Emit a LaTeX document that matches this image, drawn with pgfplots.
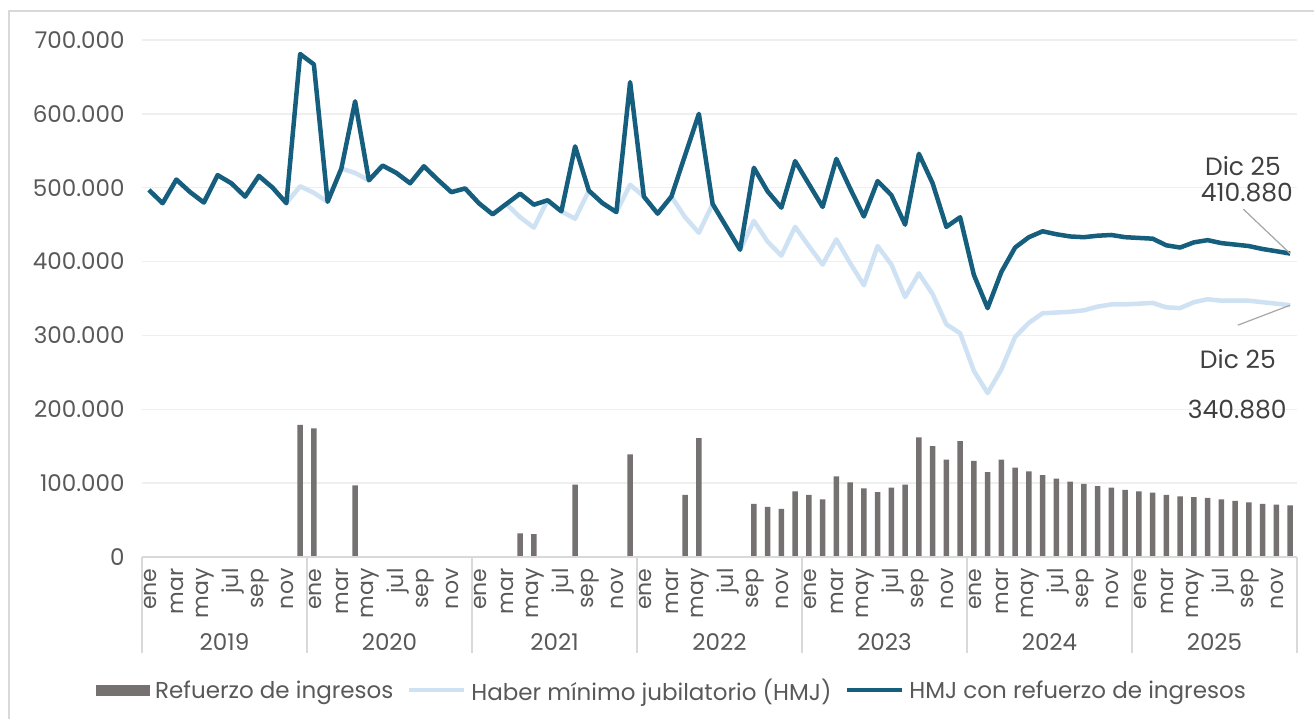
\documentclass[border=0pt]{standalone}
\usepackage{pgfplots}
\pgfplotsset{compat=1.18}
\usepackage{pgfplotstable}
\usepackage{fontspec}
\setmainfont{Poppins}
\definecolor{barc}{HTML}{767171}
\definecolor{hmj}{HTML}{CFE2F3}
\definecolor{hmjr}{HTML}{165E7D}
\definecolor{txt}{HTML}{595959}
\definecolor{anno}{HTML}{404040}
\definecolor{gridc}{HTML}{EFEFEF}
\definecolor{axc}{HTML}{D9D9D9}
\definecolor{leader}{HTML}{A6A6A6}

% HMJ con refuerzo de ingresos
\pgfplotstableread{
x y
0 497000
1 479000
2 511000
3 494000
4 480000
5 517000
6 506000
7 488000
8 516000
9 500000
10 479000
11 681000
12 667000
13 481000
14 526000
15 617000
16 510000
17 530000
18 520000
19 506000
20 529000
21 511000
22 494000
23 499000
24 479000
25 464000
26 478000
27 492000
28 477000
29 483000
30 468000
31 556000
32 496000
33 479000
34 467000
35 643000
36 488000
37 465000
38 488000
39 544000
40 600000
41 478000
42 447000
43 416000
44 527000
45 495000
46 473000
47 536000
48 505000
49 474000
50 539000
51 499000
52 461000
53 509000
54 490000
55 450000
56 546000
57 506000
58 447000
59 460000
60 382000
61 337000
62 386000
63 419000
64 433000
65 441000
66 437000
67 434000
68 433000
69 435000
70 436000
71 433000
72 432000
73 431000
74 422000
75 419000
76 426000
77 429000
78 425000
79 423000
80 421000
81 417000
82 414000
83 410880
}\dark

% Haber minimo jubilatorio
\pgfplotstableread{
x y
0 497000
1 479000
2 511000
3 494000
4 480000
5 517000
6 506000
7 488000
8 516000
9 500000
10 479000
11 502000
12 493000
13 481000
14 526000
15 520000
16 510000
17 530000
18 520000
19 506000
20 529000
21 511000
22 494000
23 499000
24 479000
25 464000
26 478000
27 460000
28 446000
29 483000
30 468000
31 458000
32 496000
33 479000
34 467000
35 504000
36 488000
37 465000
38 488000
39 460000
40 439000
41 478000
42 447000
43 416000
44 455000
45 427000
46 408000
47 447000
48 421000
49 396000
50 430000
51 398000
52 368000
53 421000
54 396000
55 352000
56 384000
57 356000
58 315000
59 303000
60 252000
61 222000
62 254000
63 298000
64 317000
65 330000
66 331000
67 332000
68 334000
69 339000
70 342000
71 342000
72 343000
73 344000
74 338000
75 337000
76 345000
77 349000
78 347000
79 347000
80 347000
81 345000
82 343000
83 340880
}\light

% Refuerzo de ingresos
\pgfplotstableread{
x y
11 179000
12 174000
15 97000
27 32000
28 31000
31 98000
35 139000
39 84000
40 161000
44 72000
45 68000
46 65000
47 89000
48 84000
49 78000
50 109000
51 101000
52 93000
53 88000
54 94000
55 98000
56 162000
57 150000
58 132000
59 157000
60 130000
61 115000
62 132000
63 121000
64 116000
65 111000
66 106000
67 102000
68 99000
69 96000
70 94000
71 91000
72 89000
73 87000
74 84000
75 82000
76 81000
77 80000
78 78000
79 76000
80 74000
81 72000
82 71000
83 70000
}\bars

\begin{document}
\begin{tikzpicture}[x=1pt,y=1pt]
\useasboundingbox (0,0) rectangle (1314,718);
\fill[white] (0,0) rectangle (1314,718);
\draw[axc, line width=2pt] (9.3,-20) -- (9.3,707.3) -- (1340,707.3);
\begin{axis}[
  at={(142pt,161pt)}, anchor=south west,
  scale only axis, width=1155pt, height=517pt,
  xmin=-0.5, xmax=83.5, ymin=0, ymax=700000,
  clip=false,
  scaled y ticks=false,
  axis line style={draw=none},
  major tick length=0pt,
  ytick={0,100000,200000,300000,400000,500000,600000,700000},
  yticklabels={0,100.000,200.000,300.000,400.000,500.000,600.000,700.000},
  yticklabel style={font=\fontsize{23}{27}\selectfont, text=txt, anchor=east, xshift=-14pt},
  ymajorgrids, grid style={gridc, line width=1.3pt},
  xtick={0,2,...,82},
  xticklabels={ene,mar,may,jul,sep,nov,ene,mar,may,jul,sep,nov,ene,mar,may,jul,sep,nov,ene,mar,may,jul,sep,nov,ene,mar,may,jul,sep,nov,ene,mar,may,jul,sep,nov,ene,mar,may,jul,sep,nov},
  xticklabel style={font=\fontsize{22}{26}\selectfont, text=txt, rotate=90, anchor=east, xshift=-8pt, yshift=-1.5pt},
  legend style={at={(0.4589,-0.2573)}, anchor=center, draw=none, fill=none,
    font=\fontsize{23}{27}\selectfont, text=txt, legend columns=3,
    /tikz/every even column/.append style={column sep=12pt},
    /tikz/every odd column/.append style={column sep=3pt}},
  legend cell align=left,
]
\addplot[ybar, bar width=5.5pt, fill=barc, draw=none,
  legend image code/.code={\fill[barc] (0pt,-5.5pt) rectangle (54pt,5.5pt);}]
  table[x=x,y=y] {\bars};
\addlegendentry{Refuerzo de ingresos}
\addplot[hmj, line width=4.5pt, line join=round, mark=none,
  legend image code/.code={\draw[hmj, line width=4pt] (0pt,0pt) -- (55pt,0pt);}]
  table[x=x,y=y] {\light};
\addlegendentry{Haber mínimo jubilatorio (HMJ)}
\addplot[hmjr, line width=4.5pt, line join=round, mark=none,
  legend image code/.code={\draw[hmjr, line width=4pt] (0pt,0pt) -- (55pt,0pt);}]
  table[x=x,y=y] {\dark};
\addlegendentry{HMJ con refuerzo de ingresos}

% category axis
\draw[axc, line width=1.5pt] (axis cs:-0.5,0) -- (axis cs:83.5,0);
\draw[axc, line width=1.5pt] (axis cs:-0.5,0) -- ([yshift=-96pt]axis cs:-0.5,0);
\draw[axc, line width=1.5pt] (axis cs:11.5,0) -- ([yshift=-96pt]axis cs:11.5,0);
\draw[axc, line width=1.5pt] (axis cs:23.5,0) -- ([yshift=-96pt]axis cs:23.5,0);
\draw[axc, line width=1.5pt] (axis cs:35.5,0) -- ([yshift=-96pt]axis cs:35.5,0);
\draw[axc, line width=1.5pt] (axis cs:47.5,0) -- ([yshift=-96pt]axis cs:47.5,0);
\draw[axc, line width=1.5pt] (axis cs:59.5,0) -- ([yshift=-96pt]axis cs:59.5,0);
\draw[axc, line width=1.5pt] (axis cs:71.5,0) -- ([yshift=-96pt]axis cs:71.5,0);
\draw[axc, line width=1.5pt] (axis cs:83.5,0) -- ([yshift=-96pt]axis cs:83.5,0);
\node[text=txt, font=\fontsize{23}{27}\selectfont] at ([yshift=-85pt]axis cs:5.5,0) {2019};
\node[text=txt, font=\fontsize{23}{27}\selectfont] at ([yshift=-85pt]axis cs:17.5,0) {2020};
\node[text=txt, font=\fontsize{23}{27}\selectfont] at ([yshift=-85pt]axis cs:29.5,0) {2021};
\node[text=txt, font=\fontsize{23}{27}\selectfont] at ([yshift=-85pt]axis cs:41.5,0) {2022};
\node[text=txt, font=\fontsize{23}{27}\selectfont] at ([yshift=-85pt]axis cs:53.5,0) {2023};
\node[text=txt, font=\fontsize{23}{27}\selectfont] at ([yshift=-85pt]axis cs:65.5,0) {2024};
\node[text=txt, font=\fontsize{23}{27}\selectfont] at ([yshift=-85pt]axis cs:77.5,0) {2025};

% annotations
\draw[leader, line width=1.2pt] (axis cs:79.6,470900) -- (axis cs:83,410880);
\draw[leader, line width=1.2pt] (axis cs:79.2,313900) -- (axis cs:83,340880);
\node[text=anno, font=\fontsize{25}{29}\selectfont] at (axis cs:79.57,529000) {Dic 25};
\node[text=anno, font=\fontsize{25}{29}\selectfont] at (axis cs:79.86,493000) {410.880};
\node[text=anno, font=\fontsize{25}{29}\selectfont] at (axis cs:79.2,268600) {Dic 25};
\node[text=anno, font=\fontsize{25}{29}\selectfont] at (axis cs:79.16,199000) {340.880};
\end{axis}
\end{tikzpicture}
\end{document}
